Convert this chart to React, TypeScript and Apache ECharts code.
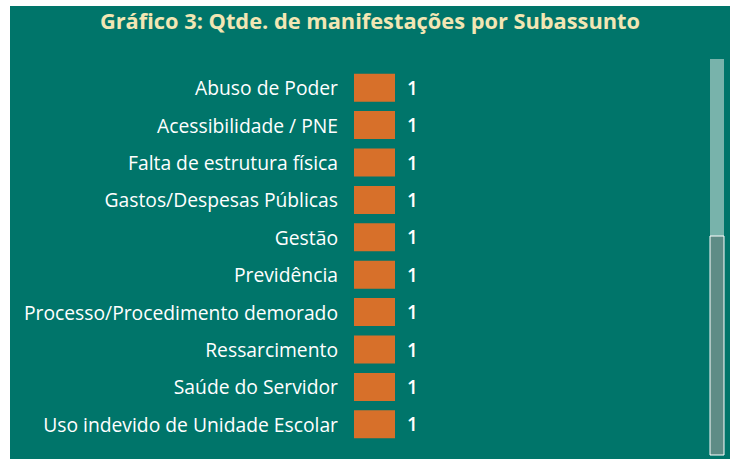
import React, { useEffect, useRef } from "react";
import * as echarts from "echarts";

const categories = [
  "Abuso de Poder",
  "Acessibilidade / PNE",
  "Falta de estrutura física",
  "Gastos/Despesas Públicas",
  "Gestão",
  "Previdência",
  "Processo/Procedimento demorado",
  "Ressarcimento",
  "Saúde do Servidor",
  "Uso indevido de Unidade Escolar",
];
const values = [1, 1, 1, 1, 1, 1, 1, 1, 1, 1];
const titleText = "Gráfico 3: Qtde. de manifestações por Subassunto";

export default function App() {
  const ref = useRef<HTMLDivElement>(null);
  useEffect(() => {
    if (!ref.current) return;
    const chart = echarts.init(ref.current, null, { renderer: "svg" });
    chart.setOption({
      animation: false,
      backgroundColor: "#00756a",
      title: {
        text: titleText,
        left: "center",
        top: -2,
        textStyle: {
          color: "#f2e6b4",
          fontFamily: "Open Sans",
          fontWeight: "bold",
          fontSize: 21.8,
        },
      },
      grid: { left: 344, top: 63, width: 41, height: 374 },
      xAxis: {
        type: "value",
        min: 0,
        max: 1,
        show: false,
      },
      yAxis: {
        type: "category",
        data: categories,
        inverse: true,
        axisLine: { show: false },
        axisTick: { show: false },
        splitLine: { show: false },
        axisLabel: {
          color: "#ffffff",
          fontFamily: "Open Sans",
          fontSize: 19.3,
          margin: 16,
        },
      },
      series: [
        {
          type: "bar",
          data: values,
          barWidth: 28,
          itemStyle: { color: "#d7702a" },
          label: {
            show: true,
            position: "right",
            distance: 12,
            color: "#ffffff",
            fontFamily: "Open Sans",
            fontWeight: 600,
            fontSize: 19,
          },
        },
      ],
      graphic: [
        {
          type: "rect",
          shape: { x: 700, y: 53, width: 14, height: 177 },
          style: { fill: "#78b3ab" },
        },
        {
          type: "rect",
          shape: { x: 700, y: 230, width: 14, height: 219 },
          style: { fill: "#5e8c86", stroke: "#ffffff", lineWidth: 1 },
        },
      ],
    });
    return () => chart.dispose();
  }, []);
  return (
    <div style={{ position: "absolute", left: 0, top: 0, width: 737, height: 459, background: "#ffffff" }}>
      <div ref={ref} style={{ position: "absolute", left: 10, top: 6, width: 720, height: 453 }} />
    </div>
  );
}
